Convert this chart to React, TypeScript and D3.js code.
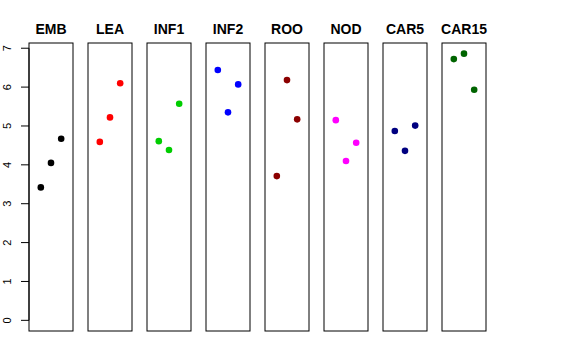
import React from "react";
import * as d3 from "d3";

const categories = ["EMB", "LEA", "INF1", "INF2", "ROO", "NOD", "CAR5", "CAR15"];
const colors = ["#000000", "#FF0000", "#00CD00", "#0000FF", "#8B0000", "#FF00FF", "#000080", "#006400"];
const values: number[][] = [
  [3.42, 4.05, 4.67],
  [4.59, 5.22, 6.10],
  [4.61, 4.38, 5.57],
  [6.44, 5.35, 6.07],
  [3.71, 6.18, 5.17],
  [5.15, 4.10, 4.57],
  [4.87, 4.36, 5.01],
  [6.72, 6.86, 5.93],
];
const replicates = [1, 2, 3];
const yTicks = [0, 1, 2, 3, 4, 5, 6, 7];

const W = 576;
const H = 360;
const top = 43;
const bottom = 331;

export default function App() {
  const maxV = d3.max(values.flat()) as number;
  const ext = maxV * 0.04;
  const y = d3.scaleLinear().domain([0 - ext, maxV + ext]).range([bottom, top]);
  const band = d3
    .scaleBand<string>()
    .domain(categories)
    .range([29, 486])
    .paddingInner(15 / 59)
    .paddingOuter(0);
  const bw = band.bandwidth();
  const xIn = d3.scaleLinear().domain([0 - 0.16, 4 + 0.16]).range([0, bw]);
  const axisX = band(categories[0]) as number;

  return (
    <svg width={W} height={H} style={{ position: "absolute", left: 0, top: 0 }} fontFamily="'Liberation Sans', Arial, sans-serif">
      <rect x={0} y={0} width={W} height={H} fill="#fff" />
      {categories.map((c, i) => {
        const x0 = band(c) as number;
        return (
          <g key={c}>
            <text x={x0 + bw / 2} y={34} textAnchor="middle" fontWeight="bold" fontSize={14} fill="#000">
              {c}
            </text>
            {values[i].map((v, j) => (
              <circle key={j} cx={x0 + xIn(replicates[j])} cy={y(v)} r={3.3} fill={colors[i]} />
            ))}
            <rect x={x0} y={top} width={bw} height={bottom - top} fill="none" stroke="#000" strokeWidth={1} />
          </g>
        );
      })}
      <line x1={axisX} x2={axisX} y1={y(0)} y2={y(7)} stroke="#000" />
      {yTicks.map((t) => (
        <g key={t}>
          <line x1={axisX - 8} x2={axisX} y1={y(t)} y2={y(t)} stroke="#000" />
          <text
            transform={`translate(${axisX - 18},${y(t)}) rotate(-90)`}
            textAnchor="middle"
            fontSize={11}
            fill="#000"
          >
            {t}
          </text>
        </g>
      ))}
    </svg>
  );
}
